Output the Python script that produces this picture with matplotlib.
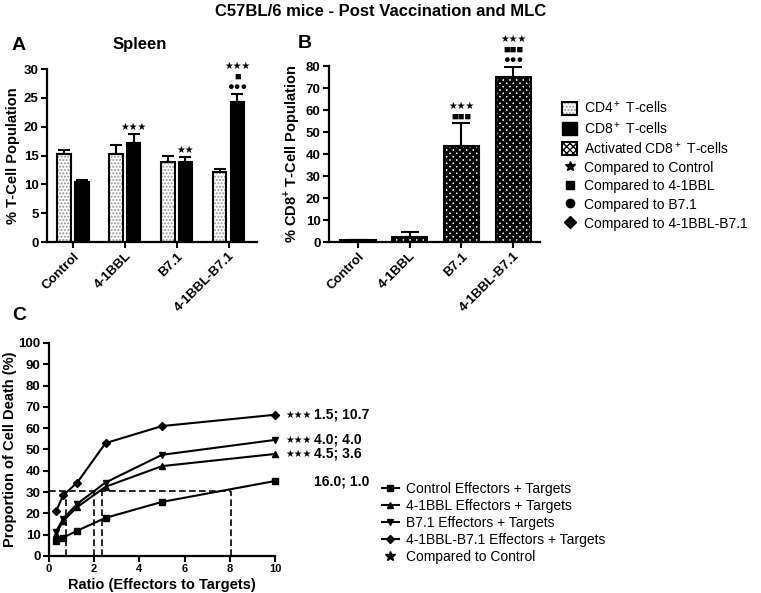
import matplotlib
matplotlib.use("Agg")
import matplotlib.pyplot as plt
from matplotlib.patches import Patch
from matplotlib.lines import Line2D
import numpy as np

plt.rcParams['font.family'] = ['Liberation Sans', 'DejaVu Sans']
plt.rcParams['mathtext.fontset'] = 'custom'
plt.rcParams['mathtext.rm'] = 'Liberation Sans'
plt.rcParams['mathtext.bf'] = 'Liberation Sans:bold'
plt.rcParams['hatch.linewidth'] = 1.0

# panel A / B data
categories = ['Control', '4-1BBL', 'B7.1', '4-1BBL-B7.1']
cd4 = [15.2, 15.2, 13.8, 12.2]
cd4_err = [0.8, 1.6, 1.1, 0.5]
cd8 = [10.4, 17.1, 13.9, 24.3]
cd8_err = [0.3, 1.7, 0.8, 1.4]
act_cd8 = [0.7, 2.5, 43.5, 75.0]
act_err = [0.2, 2.0, 10.5, 4.5]
sig_a = [[], ['★★★'], ['★★'], ['●●●', '■', '★★★']]
sig_b = [[], [], ['■■■', '★★★'], ['●●●', '■■■', '★★★']]

# panel C data
ratio = [0.3125, 0.625, 1.25, 2.5, 5, 10]
control = [7.0, 8.6, 11.9, 17.9, 25.4, 35.2]
bbl = [10.5, 16.5, 23.0, 32.5, 42.2, 47.9]
b71 = [11.5, 17.5, 24.5, 34.5, 47.5, 54.5]
bbl_b71 = [21.0, 28.5, 34.5, 53.0, 61.0, 66.3]
series_names = ['Control Effectors + Targets', '4-1BBL Effectors + Targets',
                'B7.1 Effectors + Targets', '4-1BBL-B7.1 Effectors + Targets']
series_markers = ['s', '^', 'v', 'D']
series_stars = ['', '★★★', '★★★', '★★★']
ec30_labels = ['16.0; 1.0', '4.5; 3.6', '4.0; 4.0', '1.5; 10.7']
ec30_level = 30.5
ec30_ratios = [8.05, 2.33, 2.0, 0.75]

fig = plt.figure(figsize=(7.61, 5.93), dpi=100)


def style_axes(ax):
    for s in ['top', 'right']:
        ax.spines[s].set_visible(False)
    for s in ['left', 'bottom']:
        ax.spines[s].set_linewidth(1.6)
    ax.tick_params(width=1.5, length=4, pad=2)
    for lab in ax.get_yticklabels():
        lab.set_fontweight('bold')
        lab.set_fontsize(9.5)


def add_sig(ax, xs, tops, marks):
    for x, t, rows in zip(xs, tops, marks):
        for i, r in enumerate(rows):
            fs = 7 if '★' in r else 8
            ax.annotate(r, (x, t), xytext=(0, 7 + 10.5 * i), textcoords='offset pixels',
                        ha='center', va='center', fontsize=fs, annotation_clip=False)


x = np.arange(len(categories))

# ---- A
axA = fig.add_axes([0.0618, 0.5919, 0.276, 0.2917])
w = 0.26
axA.bar(x - 0.17, cd4, w, color='white', edgecolor='#999999', hatch='.....', lw=0)
axA.bar(x - 0.17, cd4, w, fill=False, edgecolor='black', lw=1.5)
axA.bar(x + 0.17, cd8, w, color='black', edgecolor='black', lw=1.5)
axA.errorbar(x - 0.17, cd4, yerr=[np.zeros(4), cd4_err], fmt='none', ecolor='black',
             capsize=4, elinewidth=1.5, capthick=1.5)
axA.errorbar(x + 0.17, cd8, yerr=[np.zeros(4), cd8_err], fmt='none', ecolor='black',
             capsize=4, elinewidth=1.5, capthick=1.5)
add_sig(axA, x + 0.17, np.array(cd8) + np.array(cd8_err), sig_a)
axA.set_xlim(-0.5, 3.55)
axA.set_ylim(0, 30)
axA.set_yticks(range(0, 31, 5))
axA.set_xticks(x)
axA.set_xticklabels(categories, rotation=45, ha='right', rotation_mode='anchor',
                    fontsize=9.5, fontweight='bold')
axA.set_ylabel('% T-Cell Population', fontsize=10.5, fontweight='bold', labelpad=3)
style_axes(axA)
fig.text(140 / 761, 1 - 45 / 593, 'Spleen', fontsize=12, fontweight='bold', ha='center', va='center')
fig.text(12 / 761, 1 - 45 / 593, 'A', fontsize=14, fontweight='bold', ha='left', va='center')

# ---- B
axB = fig.add_axes([0.4323, 0.5919, 0.2773, 0.2968])
with plt.rc_context({'hatch.linewidth': 2.2}):
    axB.bar(x, act_cd8, 0.68, color='white', edgecolor='black', hatch='xxxxx', lw=1.5)
axB.errorbar(x, act_cd8, yerr=[np.zeros(4), act_err], fmt='none', ecolor='black',
             capsize=6.5, elinewidth=1.5, capthick=1.5)
add_sig(axB, x, np.array(act_cd8) + np.array(act_err), sig_b)
axB.set_xlim(-0.56, 3.52)
axB.set_ylim(0, 80)
axB.set_yticks(range(0, 81, 10))
axB.set_xticks(x)
axB.set_xticklabels(categories, rotation=45, ha='right', rotation_mode='anchor',
                    fontsize=9.5, fontweight='bold')
axB.set_ylabel(r'% CD8$^\mathbf{+}$ T-Cell Population', fontsize=10.5, fontweight='bold',
               labelpad=3)
style_axes(axB)
fig.text(298 / 761, 1 - 44 / 593, 'B', fontsize=14, fontweight='bold', ha='left', va='center')

# legend for A/B
h_cd4 = (Patch(facecolor='white', edgecolor='#999999', hatch='.....', lw=0),
         Patch(fill=False, edgecolor='black', lw=1.5))
h_cd8 = Patch(facecolor='black', edgecolor='black')
with plt.rc_context({'hatch.linewidth': 2.2}):
    h_act = Patch(facecolor='white', edgecolor='black', hatch='xxxxx', lw=1.5)
h_star = Line2D([], [], ls='none', marker='*', color='black', ms=7)
h_sq = Line2D([], [], ls='none', marker='s', color='black', ms=6)
h_ci = Line2D([], [], ls='none', marker='o', color='black', ms=6)
h_di = Line2D([], [], ls='none', marker='D', color='black', ms=6)
fig.legend([h_cd4, h_cd8, h_act, h_star, h_sq, h_ci, h_di],
           [r'CD4$^+$ T-cells', r'CD8$^+$ T-cells', r'Activated CD8$^+$ T-cells',
            'Compared to Control', 'Compared to 4-1BBL', 'Compared to B7.1',
            'Compared to 4-1BBL-B7.1'],
           loc='upper left', bbox_to_anchor=(562 / 761, 1 - 100 / 593), frameon=False,
           fontsize=10, borderpad=0, borderaxespad=0, handlelength=1.1,
           handleheight=1.1, handletextpad=0.5, labelspacing=0.3)

# ---- C
axC = fig.add_axes([0.0644, 0.0624, 0.297, 0.3592])
for ys, m, nm in zip([control, bbl, b71, bbl_b71], series_markers, series_names):
    axC.plot(ratio, ys, color='black', lw=1.5, marker=m, ms=5 if m != 'D' else 4.5,
             label=nm, clip_on=False)
axC.plot([0, max(ec30_ratios)], [ec30_level, ec30_level], color='black', ls='--', lw=1.2,
         dashes=(4, 2))
for r in ec30_ratios:
    axC.plot([r, r], [0, ec30_level], color='black', ls='--', lw=1.2, dashes=(4, 2))
for ys, st, lab in zip([control, bbl, b71, bbl_b71], series_stars, ec30_labels):
    if st:
        axC.annotate(st, (10, ys[-1]), xytext=(10, 0), textcoords='offset pixels',
                     ha='left', va='center', fontsize=7, annotation_clip=False)
    axC.annotate(lab, (10, ys[-1]), xytext=(39, 0), textcoords='offset pixels',
                 ha='left', va='center', fontsize=10, fontweight='bold', annotation_clip=False)
axC.set_xlim(0, 10)
axC.set_ylim(0, 100)
axC.set_yticks(range(0, 101, 10))
axC.set_xticks(range(0, 11, 2))
for lab in axC.get_xticklabels():
    lab.set_fontweight('bold')
    lab.set_fontsize(8)
axC.set_xlabel('Ratio (Effectors to Targets)', fontsize=10.5, fontweight='bold', labelpad=3)
axC.set_ylabel('Proportion of Cell Death (%)', fontsize=10.5, fontweight='bold', labelpad=1)
style_axes(axC)
fig.text(12 / 761, 1 - 315 / 593, 'C', fontsize=14, fontweight='bold', ha='left', va='center')

hC = [Line2D([], [], color='black', lw=1.5, marker=m, ms=4) for m in series_markers]
hC.append(Line2D([], [], ls='none', marker='*', color='black', ms=7))
fig.legend(hC, series_names + ['Compared to Control'], loc='upper left',
           bbox_to_anchor=(382 / 761, 1 - 482 / 593), frameon=False, fontsize=10,
           borderpad=0, borderaxespad=0, handlelength=1.2, handletextpad=0.5,
           labelspacing=0.22)

fig.text(0.5, 1 - 12 / 593, 'C57BL/6 mice - Post Vaccination and MLC', fontsize=12,
         fontweight='bold', ha='center', va='center')

fig.savefig('out.png', dpi=100)
